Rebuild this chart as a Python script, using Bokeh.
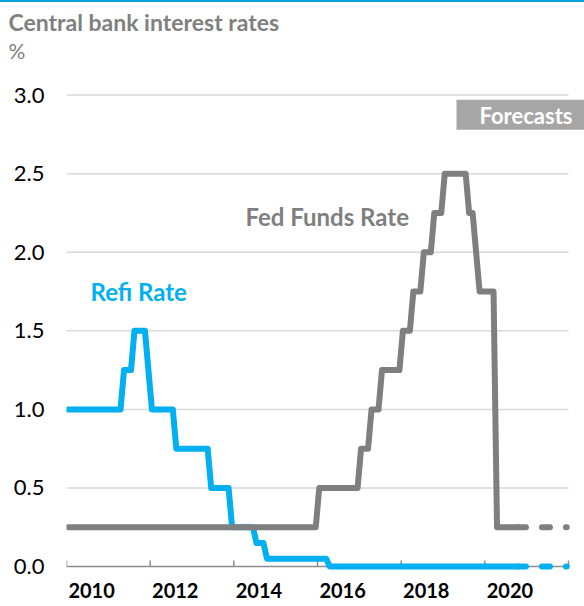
from bokeh.plotting import figure
from bokeh.models import FixedTicker, Label, Div, Title
from bokeh.layouts import column
from bokeh.embed import file_html
from bokeh.resources import INLINE

# ---------------- data ----------------
# Refi rate (ECB), month-start values at each level change (vertices of the step line)
refi_months = ["2010-01", "2011-04", "2011-05", "2011-07", "2011-08", "2011-11", "2011-12",
               "2012-01", "2012-07", "2012-08", "2013-05", "2013-06", "2013-11", "2013-12",
               "2014-06", "2014-07", "2014-09", "2014-10", "2016-03", "2016-04", "2020-10"]
refi_rates = [1.00, 1.00, 1.25, 1.25, 1.50, 1.50, 1.25,
              1.00, 1.00, 0.75, 0.75, 0.50, 0.50, 0.25,
              0.25, 0.15, 0.15, 0.05, 0.05, 0.00, 0.00]
refi_fc_months = ["2020-10", "2021-12"]
refi_fc_rates = [0.00, 0.00]

# Fed funds rate (upper bound)
fed_months = ["2010-01", "2015-12", "2016-01", "2016-12", "2017-01", "2017-03", "2017-04",
              "2017-06", "2017-07", "2017-12", "2018-01", "2018-03", "2018-04", "2018-06",
              "2018-07", "2018-09", "2018-10", "2018-12", "2019-01", "2019-07", "2019-08",
              "2019-09", "2019-10", "2019-11", "2020-03", "2020-04", "2020-10"]
fed_rates = [0.25, 0.25, 0.50, 0.50, 0.75, 0.75, 1.00,
             1.00, 1.25, 1.25, 1.50, 1.50, 1.75, 1.75,
             2.00, 2.00, 2.25, 2.25, 2.50, 2.50, 2.25,
             2.25, 2.00, 1.75, 1.75, 0.25, 0.25]
fed_fc_months = ["2020-10", "2021-12"]
fed_fc_rates = [0.25, 0.25]

x_boundary_years = [2010, 2012, 2014, 2016, 2018, 2020, 2022]
x_label_years = [2010, 2012, 2014, 2016, 2018, 2020]
x_labels = ["2010", "2012", "2014", "2016", "2018", "2020"]
y_ticks = [0.0, 0.5, 1.0, 1.5, 2.0, 2.5, 3.0]
y_labels = ["0.0", "0.5", "1.0", "1.5", "2.0", "2.5", "3.0"]

title_text = "Central bank interest rates"
unit_text = "%"
fed_name = "Fed Funds Rate"
refi_name = "Refi Rate"
forecast_text = "Forecasts"


def month_pos(m):
    y, mo = m.split("-")
    return int(y) + (int(mo) - 0.5) / 12.0


BLUE = "#00B0F0"
GREY = "#7F7F7F"
FONT = "Lato"
X0, X1 = x_boundary_years[0], x_boundary_years[-1]

W, H = 584, 604
p = figure(width=W, height=H, x_range=(X0, X1 + 16 / 41.83), y_range=(-0.025, 3.01),
           output_backend="svg", toolbar_location=None, title=None,
           min_border_left=66, min_border_right=0, min_border_top=91, min_border_bottom=36)
p.outline_line_color = None
p.background_fill_color = "white"
p.border_fill_color = "white"
p.xgrid.visible = False
p.ygrid.visible = False

# horizontal gridlines limited to the data period
gl = [t for t in y_ticks if t > 0]
g = p.segment(x0=[X0] * len(gl), y0=gl, x1=[X1] * len(gl), y1=gl,
              line_color="#D9D9D9", line_width=1.5)
g.level = "underlay"

# y axis
p.yaxis.ticker = FixedTicker(ticks=y_ticks)
p.yaxis.major_label_overrides = {t: l for t, l in zip(y_ticks, y_labels)}
p.yaxis.axis_line_color = None
p.yaxis.major_tick_line_color = None
p.yaxis.major_tick_out = 0
p.yaxis.minor_tick_line_color = None
p.yaxis.major_label_standoff = 22
p.yaxis.major_label_text_font = FONT
p.yaxis.major_label_text_font_size = "22px"
p.yaxis.major_label_text_color = "black"

# x axis (labels centred inside each two-year span)
label_pos = [y + 0.6 for y in x_label_years]
p.xaxis.ticker = FixedTicker(ticks=label_pos)
p.xaxis.major_label_overrides = {t: l for t, l in zip(label_pos, x_labels)}
p.xaxis.axis_line_color = None
p.xaxis.major_tick_line_color = None
p.xaxis.major_tick_out = 0
p.xaxis.minor_tick_line_color = None
p.xaxis.major_label_standoff = 12
p.xaxis.major_label_text_font = FONT
p.xaxis.major_label_text_font_style = "bold"
p.xaxis.major_label_text_font_size = "20px"
p.xaxis.major_label_text_color = "black"

# baseline and boundary ticks
b = p.segment(x0=[X0], y0=[0], x1=[X1], y1=[0], line_color="#8C8C8C", line_width=1.5)
b.level = "underlay"
tk = p.segment(x0=x_boundary_years, y0=[0] * len(x_boundary_years),
               x1=x_boundary_years, y1=[0.038] * len(x_boundary_years),
               line_color="#8C8C8C", line_width=1.5)
tk.level = "underlay"

# lines
LW = 6
p.line([month_pos(m) for m in refi_months], refi_rates, line_color=BLUE, line_width=LW,
       line_join="round", line_cap="round")
p.line([month_pos(m) for m in refi_fc_months], refi_fc_rates, line_color=BLUE, line_width=LW,
       line_cap="round", line_dash="8 16")
p.line([month_pos(m) for m in fed_months], fed_rates, line_color=GREY, line_width=LW,
       line_join="round", line_cap="round")
p.line([month_pos(m) for m in fed_fc_months], fed_fc_rates, line_color=GREY, line_width=LW,
       line_cap="round", line_dash="8 16")

# in-chart texts
p.add_layout(Label(x=2014.279, y=2.227, text=fed_name, text_font=FONT, text_font_style="bold",
                   text_font_size="24px", text_color=GREY, text_baseline="middle"))
p.add_layout(Label(x=2010.574, y=1.751, text=refi_name, text_font=FONT, text_font_style="bold",
                   text_font_size="24px", text_color=BLUE, text_baseline="middle"))
p.add_layout(Label(x=2019.323, y=2.874, text=forecast_text, text_font=FONT, text_font_style="bold",
                   text_font_size="22px", text_color="white", text_baseline="middle",
                   background_fill_color="#A6A6A6",
                   padding=dict(left=23, right=12, top=2, bottom=1)))

# title block above the frame: spacer, unit line, main title (stacked outward)
p.add_layout(Title(text=" ", text_font_size="1px", standoff=28), "above")
p.add_layout(Title(text=unit_text, align="left", offset=-58, standoff=0, vertical_align="bottom",
                   text_font=FONT, text_font_size="21px", text_font_style="normal",
                   text_color="#808080"), "above")
p.add_layout(Title(text=title_text, align="left", offset=-58, standoff=0, vertical_align="bottom",
                   text_font=FONT, text_font_size="23px", text_font_style="bold",
                   text_color="#808080"), "above")

bar = Div(width=W, height=2, margin=0, styles={"background-color": "#009FDF"})
layout = column(bar, p, spacing=0)

open("out.html", "w").write(file_html(layout, INLINE))
